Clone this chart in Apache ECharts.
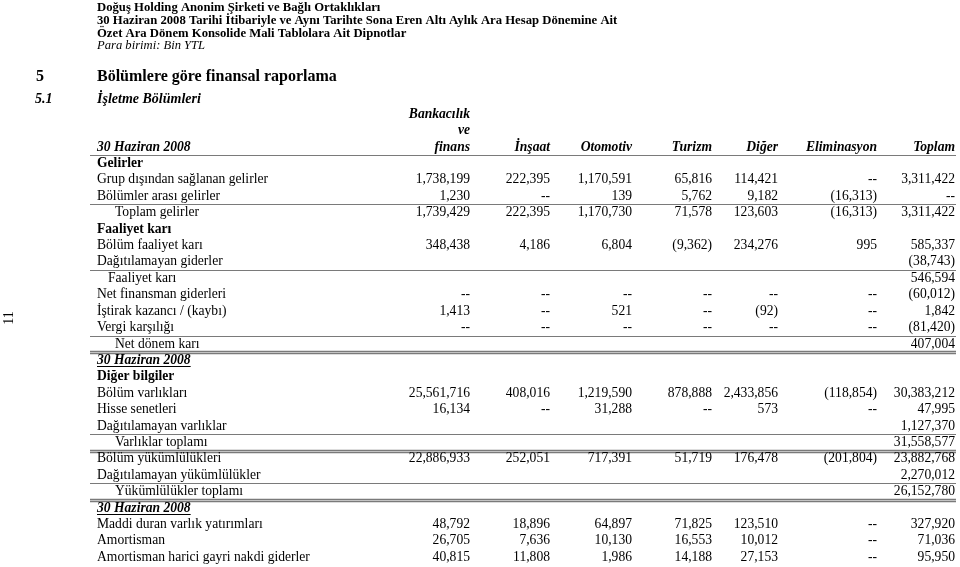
<!DOCTYPE html>
<html><head><meta charset="utf-8">
<script src="https://cdn.jsdelivr.net/npm/echarts@6/dist/echarts.min.js"></script>
<style>html,body{margin:0;padding:0;background:#fff}#c{width:960px;height:567px}</style>
</head><body><div id="c"></div>
<script>
// ---------------- DATA ----------------
const pageTitle = [
  'Doğuş Holding Anonim Şirketi ve Bağlı Ortaklıkları',
  '30 Haziran 2008 Tarihi İtibariyle ve Aynı Tarihte Sona Eren Altı Aylık Ara Hesap Dönemine Ait',
  'Özet Ara Dönem Konsolide Mali Tablolara Ait Dipnotlar'
];
const currencyNote = 'Para birimi: Bin YTL';
const sectionNo = '5', sectionTitle = 'Bölümlere göre finansal raporlama';
const subNo = '5.1', subTitle = 'İşletme Bölümleri';
const pageNumber = '11';
const periodLabel = '30 Haziran 2008';
const columnHeaders = [['Bankacılık', 've', 'finans'], ['İnşaat'], ['Otomotiv'], ['Turizm'], ['Diğer'], ['Eliminasyon'], ['Toplam']];

const rowLabels = [
  'Gelirler', 'Grup dışından sağlanan gelirler', 'Bölümler arası gelirler', 'Toplam gelirler',
  'Faaliyet karı', 'Bölüm faaliyet karı', 'Dağıtılamayan giderler', 'Faaliyet karı',
  'Net finansman giderleri', 'İştirak kazancı / (kaybı)', 'Vergi karşılığı', 'Net dönem karı',
  '30 Haziran 2008', 'Diğer bilgiler', 'Bölüm varlıkları', 'Hisse senetleri',
  'Dağıtılamayan varlıklar', 'Varlıklar toplamı', 'Bölüm yükümlülükleri', 'Dağıtılamayan yükümlülükler',
  'Yükümlülükler toplamı', '30 Haziran 2008', 'Maddi duran varlık yatırımları', 'Amortisman',
  'Amortisman harici gayri nakdi giderler'
];
// 0 shown as "--", negatives in parentheses, null = blank
const bankacilik = [null, 1738199, 1230, 1739429, null, 348438, null, null, 0, 1413, 0, null, null, null, 25561716, 16134, null, null, 22886933, null, null, null, 48792, 26705, 40815];
const insaat     = [null, 222395, 0, 222395, null, 4186, null, null, 0, 0, 0, null, null, null, 408016, 0, null, null, 252051, null, null, null, 18896, 7636, 11808];
const otomotiv   = [null, 1170591, 139, 1170730, null, 6804, null, null, 0, 521, 0, null, null, null, 1219590, 31288, null, null, 717391, null, null, null, 64897, 10130, 1986];
const turizm     = [null, 65816, 5762, 71578, null, -9362, null, null, 0, 0, 0, null, null, null, 878888, 0, null, null, 51719, null, null, null, 71825, 16553, 14188];
const diger      = [null, 114421, 9182, 123603, null, 234276, null, null, 0, -92, 0, null, null, null, 2433856, 573, null, null, 176478, null, null, null, 123510, 10012, 27153];
const eliminasyon= [null, 0, -16313, -16313, null, 995, null, null, 0, 0, 0, null, null, null, -118854, 0, null, null, -201804, null, null, null, 0, 0, 0];
const toplam     = [null, 3311422, 0, 3311422, null, 585337, -38743, 546594, -60012, 1842, -81420, 407004, null, null, 30383212, 47995, 1127370, 31558577, 23882768, 2270012, 26152780, null, 327920, 71036, 95950];

// ---------------- LAYOUT / STYLE ----------------
const rowKind = ['head','n','n','tot','head','n','n','tot2','n','n','n','tot','per','head','n','n','n','tot','n','n','tot','per','n','n','n'];
const ruleAfter = {2:'s', 6:'s', 10:'s', 11:'d', 16:'s', 17:'d', 19:'s', 20:'d'};
const indent = {tot: 18, tot2: 11};
const COL_RIGHT = [470, 550, 632, 712, 778, 877, 955];
const LABEL_X = 97, RULE_X1 = 90, RULE_X2 = 956;
const FF = '"Liberation Serif", "Times New Roman", serif';
const FS = 13.6;
const fReg = FS + 'px ' + FF, fBold = 'bold ' + FS + 'px ' + FF, fBI = 'italic bold ' + FS + 'px ' + FF;

const allCols = [bankacilik, insaat, otomotiv, turizm, diger, eliminasyon, toplam];
const HEADER_ROWS = 3;
const nRows = HEADER_ROWS + rowLabels.length;
const cats = Array.from({length: nRows}, (_, i) => String(i));

function fmt(v) {
  if (v === 0) return '--';
  const s = Math.abs(v).toLocaleString('en-US');
  return v < 0 ? '(' + s + ')' : s;
}
const measureCtx = document.createElement('canvas').getContext('2d');
function textW(t, font) { measureCtx.font = font; return measureCtx.measureText(t).width; }

function txt(x, y, t, font, align) {
  return {type: 'text', x: x, y: y, style: {text: t, font: font, fill: '#000', align: align || 'left', verticalAlign: 'middle', textAlign: align || 'left', textVerticalAlign: 'middle'}};
}
function rule(x1, x2, y, w, c) {
  return {type: 'line', shape: {x1: x1, y1: y, x2: x2, y2: y}, style: {stroke: c || '#7a7a7a', lineWidth: w || 1}};
}

function renderItem(params, api) {
  const i = api.value(1);
  const y = api.coord([0, i])[1];
  const band = api.size([0, 1])[1];
  const X = v => api.coord([v, i])[0];
  const ch = [];
  let r = null;
  if (i < HEADER_ROWS) {
    ch.push(txt(X(COL_RIGHT[0]), y, columnHeaders[0][i], fBI, 'right'));
    if (i === HEADER_ROWS - 1) {
      ch.push(txt(X(LABEL_X), y, periodLabel, fBI));
      for (let c = 1; c < columnHeaders.length; c++) ch.push(txt(X(COL_RIGHT[c]), y, columnHeaders[c][0], fBI, 'right'));
      r = 's';
    }
  } else {
    const b = i - HEADER_ROWS;
    const k = rowKind[b];
    const lab = rowLabels[b];
    const lx = X(LABEL_X + (indent[k] || 0));
    const font = k === 'head' ? fBold : (k === 'per' ? fBI : fReg);
    ch.push(txt(lx, y, lab, font));
    if (k === 'per') {
      const w = textW(lab, fBI);
      ch.push(rule(lx, lx + w, Math.round(y + 6) + 0.5, 1, '#000'));
    }
    for (let c = 0; c < allCols.length; c++) {
      const v = allCols[c][b];
      if (v === null || v === undefined) continue;
      ch.push(txt(X(COL_RIGHT[c]), y, fmt(v), fReg, 'right'));
    }
    r = ruleAfter[b] || null;
  }
  if (r) {
    const yb = Math.round(y + band / 2) + 0.5;
    if (r === 's') ch.push(rule(X(RULE_X1), X(RULE_X2), yb, 1.2));
    else { ch.push(rule(X(RULE_X1), X(RULE_X2), yb - 1, 1.3)); ch.push(rule(X(RULE_X1), X(RULE_X2), yb + 1, 1.3)); }
  }
  return {type: 'group', children: ch};
}

const chart = echarts.init(document.getElementById('c'), null, {renderer: 'canvas'});
const hf = 'bold 12.7px ' + FF;
function gtext(x, y, t, font) {
  return {type: 'text', x: x, y: y, style: {text: t, font: font, fill: '#000', textVerticalAlign: 'middle', verticalAlign: 'middle'}};
}
chart.setOption({
  animation: false,
  backgroundColor: '#fff',
  grid: {left: 0, right: 0, top: 106, bottom: 1.5, containLabel: false},
  xAxis: {type: 'value', min: 0, max: 960, show: false},
  yAxis: {type: 'category', data: cats, inverse: true, show: false},
  graphic: [
    gtext(97, 7.5, pageTitle[0], hf),
    gtext(97, 20.5, pageTitle[1], hf),
    gtext(97, 33.5, pageTitle[2], hf),
    gtext(97, 46, currencyNote, 'italic 12.6px ' + FF),
    gtext(36, 77, sectionNo, 'bold 16px ' + FF),
    gtext(97, 77, sectionTitle, 'bold 16px ' + FF),
    gtext(35, 99, subNo, 'italic bold 14px ' + FF),
    gtext(97, 99, subTitle, 'italic bold 14px ' + FF),
    {type: 'text', x: 9, y: 318, rotation: Math.PI / 2, style: {text: pageNumber, font: '14px ' + FF, fill: '#000', align: 'center', textAlign: 'center', textVerticalAlign: 'middle', verticalAlign: 'middle'}}
  ],
  series: [{
    type: 'custom',
    clip: false,
    renderItem: renderItem,
    encode: {x: 0, y: 1},
    data: cats.map((_, i) => [0, i])
  }]
});
</script>
</body></html>
